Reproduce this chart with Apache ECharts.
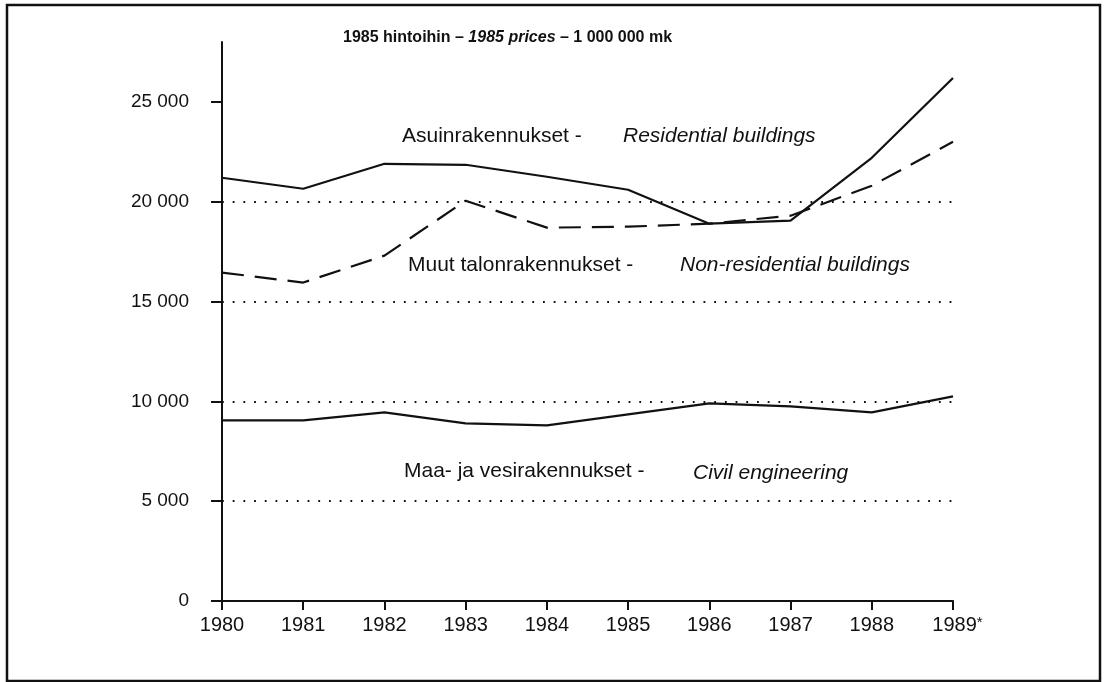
<!DOCTYPE html>
<html lang="fi">
  <head>
    <meta charset="UTF-8" />
    <title>Talonrakennus 1980-1989</title>
    <script src="https://cdn.jsdelivr.net/npm/echarts@6/dist/echarts.min.js"></script>
    <style>
      html, body { margin: 0; padding: 0; background: #fff; }
      #chart { width: 1108px; height: 682px; }
    </style>
  </head>
  <body>
    <div id="chart"></div>
    <script>
      // vuodet
      const years = ['1980', '1981', '1982', '1983', '1984', '1985', '1986', '1987', '1988', '1989*'];
      // 1985 hintoihin, milj. mk
      const residential = [21200, 20650, 21900, 21850, 21250, 20600, 18900, 19050, 22200, 26200];
      const nonResidential = [16450, 15950, 17300, 20050, 18700, 18750, 18900, 19300, 20800, 23000];
      const civil = [9050, 9050, 9450, 8900, 8800, 9350, 9900, 9750, 9450, 10250];
      const yTicks = [0, 5000, 10000, 15000, 20000, 25000];

      const font = "'Liberation Sans', Arial, Helvetica, sans-serif";
      const ink = '#111';

      const chart = echarts.init(document.getElementById('chart'), null, { renderer: 'canvas' });

      const fmt = v => v === 0 ? '0' : String(v).replace(/(\d)(?=(\d{3})+$)/g, '$1 ');

      const lineSeries = (name, data, type) => ({
        name: name,
        type: 'line',
        data: data,
        symbol: 'none',
        silent: true,
        z: 3,
        lineStyle: { color: ink, width: 2.2, type: type }
      });

      // selitetekstit
      const note = (x, y, text, italic) => ({
        type: 'text',
        left: x,
        top: y,
        style: {
          text: text,
          fill: ink,
          font: (italic ? 'italic ' : '') + '21px ' + font
        }
      });

      chart.setOption({
        animation: false,
        backgroundColor: '#fff',
        grid: { left: 222, right: 155, top: 42, bottom: 81 },
        xAxis: {
          type: 'category',
          data: years,
          boundaryGap: false,
          axisLine: { lineStyle: { color: ink, width: 2 } },
          axisTick: { interval: 0, length: 9, lineStyle: { color: ink, width: 2 } },
          axisLabel: {
            interval: 0,
            color: ink, fontSize: 20, fontFamily: font, margin: 14,
            formatter: v => v.endsWith('*') ? '{n|' + v.slice(0, -1) + '}{s|*}' : v,
            rich: {
              n: { fontSize: 20, fontFamily: font, color: ink, padding: [0, 0, 0, 9] },
              s: { fontSize: 15, fontFamily: font, color: ink, verticalAlign: 'top', padding: [0, 0, 6, 0] }
            }
          },
          splitLine: { show: false }
        },
        yAxis: {
          type: 'value',
          min: 0,
          max: 28000,
          interval: 5000,
          axisLine: { show: true, lineStyle: { color: ink, width: 2 } },
          axisTick: { show: true, length: 11, customValues: yTicks, lineStyle: { color: ink, width: 2 } },
          axisLabel: {
            color: ink, fontSize: 19, fontFamily: font, margin: 33,
            customValues: yTicks,
            formatter: fmt
          },
          splitLine: {
            show: true,
            showMinLine: false,
            showMaxLine: false,
            lineStyle: { color: ink, width: 1.8, type: [1.8, 8.9] }
          }
        },
        series: [
          lineSeries('Asuinrakennukset', residential, 'solid'),
          lineSeries('Muut talonrakennukset', nonResidential, [22, 11]),
          lineSeries('Maa- ja vesirakennukset', civil, 'solid')
        ],
        graphic: [
          {
            type: 'rect',
            shape: { x: 7, y: 5, width: 1093, height: 676 },
            style: { fill: 'none', stroke: ink, lineWidth: 2.5 },
            silent: true
          },
          {
            type: 'text',
            left: 343,
            top: 30,
            style: {
              text: '{b|1985 hintoihin – }{i|1985 prices}{b| – 1 000 000 mk}',
              rich: {
                b: { font: "bold 16px 'Liberation Sans Narrow', " + font, fill: ink },
                i: { font: "italic bold 16px 'Liberation Sans Narrow', " + font, fill: ink }
              }
            }
          },
          note(402, 126, 'Asuinrakennukset -', false),
          note(623, 126, 'Residential buildings', true),
          note(408, 255, 'Muut talonrakennukset -', false),
          note(680, 255, 'Non-residential buildings', true),
          note(404, 461, 'Maa- ja vesirakennukset -', false),
          note(693, 463, 'Civil engineering', true)
        ]
      });
    </script>
  </body>
</html>
